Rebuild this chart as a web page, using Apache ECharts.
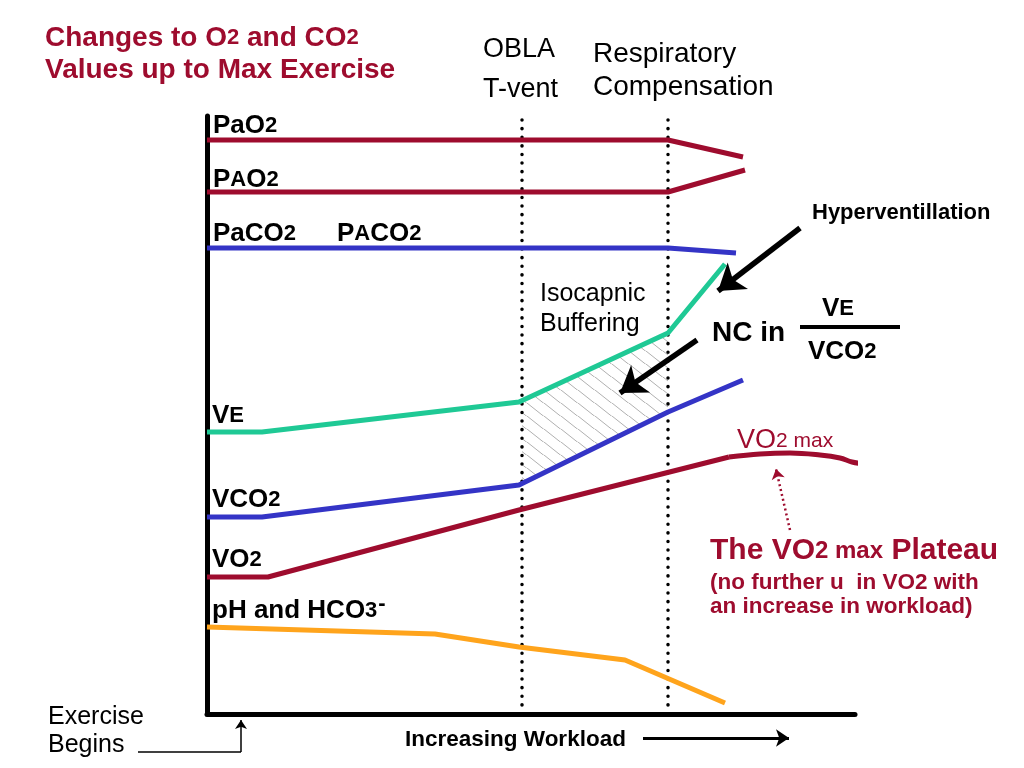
<!DOCTYPE html>
<html><head><meta charset="utf-8">
<script src="https://cdn.jsdelivr.net/npm/echarts@6/dist/echarts.min.js"></script>
<style>html,body{margin:0;padding:0;background:#fff}#c{width:1024px;height:768px}</style>
</head><body><div id="c"></div>
<script>
// Data (x: workload units, y: relative level)
const paO2  = [[0,574],[461,574],[536,557]];
const pAO2  = [[0,522],[461,522],[538,544]];
const paCO2 = [[0,466],[461,466],[529,461]];
const vE    = [[0,282],[55,282],[312,312],[461,381],[518,450]];
const vCO2  = [[0,197],[55,197],[312,229],[461,302],[536,334]];
const vO2   = [[0,137],[61,137],[312,204],[522,257],[553,260],[583,261],[613,259],[633,256],[645,252],[658,250]];
const pH    = [[0,87],[228,80],[312,67],[418,54],[518,11]];
const oblaX = 315;
const rcX   = 461;
const hatchTop = [[315,313],[461,381]];
const hatchBottom = [[461,302],[315,230]];

const RED='#9E0C2E', GREEN='#1FC995', BLUE='#3434C6', ORANGE='#FFA41C';
const FF='"Liberation Sans", Arial, sans-serif';

const TW=17, TH=13.5;
const pc=document.createElement('canvas'); pc.width=TW; pc.height=TH;
const g=pc.getContext('2d'); g.strokeStyle='#b0b0b0'; g.lineWidth=1;
[0,TH,-TH].forEach(o=>{g.beginPath(); g.moveTo(-TW,-TH+o); g.lineTo(2*TW,2*TH+o); g.stroke();});

function line(name,data,color,extra){
  return Object.assign({type:'line',name,data,symbol:'none',clip:false,
    lineStyle:{color,width:5},z:3,silent:true},extra||{});
}
function arrow(coords,color,width,size,type,head){
  return {type:'lines',coordinateSystem:'cartesian2d',clip:false,silent:true,z:5,
    symbol:['none',head===false?'none':'arrow'],symbolSize:size,
    lineStyle:{color,width,type:type||'solid',opacity:1},
    data:[{coords}]};
}
function T(x,y,text,size,weight,color,subSize,subWeight){
  const c=color||'#000';
  const st={text,font:(weight||'normal')+' '+size+'px '+FF,fill:c,verticalAlign:'middle',align:'left'};
  if(subSize){st.rich={s:{fontSize:subSize,fontWeight:subWeight||weight||'normal',fontFamily:FF,fill:c,color:c}};}
  return {type:'text',x,y,style:st,z:10};
}

const chart=echarts.init(document.getElementById('c'));
chart.setOption({
  animation:false,
  grid:{left:207,top:116,width:648,height:598},
  xAxis:{type:'value',min:0,max:648,splitLine:{show:false},axisTick:{show:false},axisLabel:{show:false},
    axisLine:{lineStyle:{color:'#000',width:5}}},
  yAxis:{type:'value',min:0,max:598,splitLine:{show:false},axisTick:{show:false},axisLabel:{show:false},
    axisLine:{lineStyle:{color:'#000',width:5}}},
  series:[
    {type:'custom',data:[[0,0]],silent:true,z:1,clip:false,
     renderItem:function(params,api){
       const pts=hatchTop.concat(hatchBottom).map(p=>api.coord(p));
       return {type:'polygon',shape:{points:pts},style:{fill:{type:'pattern',image:pc,repeat:'repeat'}}};
     }},
    line('obla',[[oblaX,594],[oblaX,6]],'#000',{lineStyle:{color:'#000',width:3.5,type:[0.1,8.5],cap:'round'},z:2}),
    line('rc',[[rcX,594],[rcX,6]],'#000',{lineStyle:{color:'#000',width:3.5,type:[0.1,8.5],cap:'round'},z:2}),
    line('PaO2',paO2,RED),
    line('PAO2',pAO2,RED),
    line('PaCO2',paCO2,BLUE),
    line('VE',vE,GREEN),
    line('VCO2',vCO2,BLUE),
    line('VO2',vO2.slice(0,4),RED),
    line('VO2max',vO2.slice(3),RED,{smooth:0.4}),
    line('pH',pH,ORANGE),
    arrow([[593,486],[511,423]],'#000',5.5,[0,25]),
    arrow([[490,374],[413,321]],'#000',5.5,[0,25]),
    arrow([[583,184],[569,245]],RED,2.5,[0,10],[2,3]),
    arrow([[-69,-38],[34,-38]],'#000',1.5,[0,0],'solid',false),
    arrow([[34,-38],[34,-6]],'#000',1.5,[0,9]),
    arrow([[436,-24],[582,-24]],'#000',3,[0,13])
  ],
  graphic:[
    {type:'text',x:45,y:54,z:10,style:{text:'Changes to O{s|2} and CO{s|2}\nValues up to Max Exercise',
      font:'bold 28px '+FF,fill:RED,lineHeight:32,verticalAlign:'middle',
      rich:{s:{fontSize:22,fontWeight:'bold',fontFamily:FF,fill:RED,color:RED}}}},
    T(483,50,'OBLA',27),
    T(483,90,'T-vent',27),
    T(593,54,'Respiratory',28),
    T(593,87,'Compensation',28),
    T(213,126,'PaO{s|2}',26,'bold','#000',22),
    T(213,180,'P{s|A}O{s|2}',26,'bold','#000',22),
    T(213,234,'PaCO{s|2}',26,'bold','#000',22),
    T(337,234,'P{s|A}CO{s|2}',26,'bold','#000',22),
    T(212,416,'V{s|E}',26,'bold','#000',22),
    T(212,500,'VCO{s|2}',26,'bold','#000',22),
    T(212,560,'VO{s|2}',26,'bold','#000',22),
    {type:'text',x:212,y:611,z:10,style:{text:'pH and HCO{s|3}{t|-}',font:'bold 26px '+FF,fill:'#000',verticalAlign:'middle',
      rich:{s:{fontSize:22,fontWeight:'bold',fontFamily:FF,fill:'#000',color:'#000'},
            t:{fontSize:22,fontWeight:'bold',fontFamily:FF,fill:'#000',color:'#000',padding:[0,0,14,1]}}}},
    T(540,294,'Isocapnic',25),
    T(540,324,'Buffering',25),
    T(812,213,'Hyperventillation',22,'bold'),
    T(712,333,'NC in',28,'bold'),
    T(822,309,'V{s|E}',26,'bold','#000',22),
    {type:'rect',shape:{x:800,y:325,width:100,height:4},style:{fill:'#000'}},
    T(808,352,'VCO{s|2}',26,'bold','#000',22),
    T(737,441,'VO{s|2 max}',27,'normal',RED,21),
    T(710,551,'The VO{s|2 max} Plateau',30,'bold',RED,24),
    T(710,583,'(no further u  in VO2 with',22.5,'bold',RED),
    T(710,607,'an increase in workload)',22.5,'bold',RED),
    T(48,717,'Exercise',25),
    T(48,745,'Begins',25),
    T(405,740,'Increasing Workload',22.5,'bold')
  ]
});
</script></body></html>
